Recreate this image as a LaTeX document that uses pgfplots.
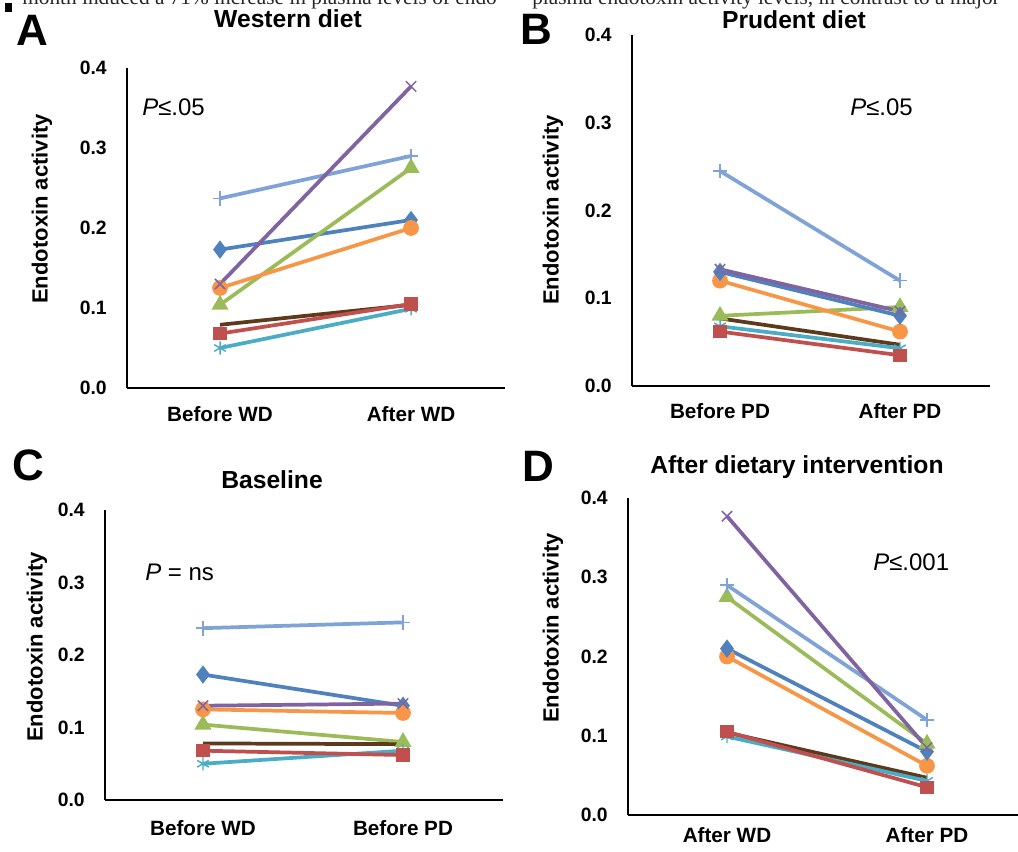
\documentclass[border=0pt]{standalone}
\usepackage{fontspec}
\setmainfont{Liberation Sans}
\newfontfamily\seriffont{Liberation Serif}
\usepackage{pgfplots}
\pgfplotsset{compat=1.18}
\definecolor{c1}{HTML}{4F81BD}
\definecolor{c2}{HTML}{C0504D}
\definecolor{c3}{HTML}{9BBB59}
\definecolor{c4}{HTML}{8064A2}
\definecolor{c5}{HTML}{4BACC6}
\definecolor{c6}{HTML}{F79646}
\definecolor{c7}{HTML}{7FA3D6}
\definecolor{c8}{HTML}{5E3A1C}
\pgfplotsset{
  panel/.style={
    scale only axis, axis lines=left,
    axis line style={-, line width=1.3pt, black},
    xtick={0,1}, ytick={0,0.1,0.2,0.3,0.4},
    yticklabels={0.0,0.1,0.2,0.3,0.4},
    ymin=0, ymax=0.4, major tick length=0pt,
    yticklabel style={font=\bfseries\fontsize{14.5}{17}\selectfont, inner sep=0pt, anchor=east, xshift=-15pt},
    xticklabel style={font=\bfseries\fontsize{15.5}{18}\selectfont, inner sep=0pt, anchor=north},
    clip=false, anchor=south west,
  },
  s1/.style={color=c1, line width=2.8pt, mark=diamond*, mark size=4.6pt},
  s2/.style={color=c2, line width=2.8pt, mark=square*, mark size=3.6pt},
  s3/.style={color=c3, line width=2.8pt, mark=triangle*, mark size=4.6pt},
  s4/.style={color=c4, line width=2.8pt, mark=x, mark size=5.5pt, mark options={line width=1.1pt}},
  s5/.style={color=c5, line width=2.8pt, mark=asterisk, mark size=5pt, mark options={line width=1.1pt}},
  s6/.style={color=c6, line width=2.8pt, mark=*, mark size=4.5pt},
  s7/.style={color=c7, line width=2.8pt, mark=+, mark size=5.5pt, mark options={line width=1.1pt}},
  s8/.style={color=c8, line width=2.8pt, mark=none},
}
\begin{document}
\begin{tikzpicture}
\path[use as bounding box] (0,0) rectangle (763.5pt,639pt);
% cut-off text from the page above
\fill (3.75pt,630pt) rectangle (9pt,636.75pt);
\node[anchor=base west, inner sep=0pt, font=\seriffont\fontsize{16}{18}\selectfont, text=black!85] at (16.5pt,635.5pt) {month induced a 71\% increase in plasma levels of endo-};
\node[anchor=base west, inner sep=0pt, font=\seriffont\fontsize{16}{18}\selectfont, text=black!85] at (399pt,635.5pt) {plasma endotoxin activity levels, in contrast to a major};

% ---------------- A: Western diet
\begin{axis}[panel, at={(95.25pt,348pt)}, width=283.5pt, height=240pt,
  xmin=-0.487, xmax=1.492, xticklabels={Before WD, After WD},
  xticklabel style={yshift=-14pt}]
\addplot[s7] coordinates {(0,0.237) (1,0.290)};
\addplot[s1] coordinates {(0,0.173) (1,0.210)};
\addplot[s3] coordinates {(0,0.104) (1,0.275)};
\addplot[s6] coordinates {(0,0.125) (1,0.200)};
\addplot[s5] coordinates {(0,0.050) (1,0.099)};
\addplot[s8] coordinates {(0,0.079) (1,0.104)};
\addplot[s2] coordinates {(0,0.068) (1,0.105)};
\addplot[s4] coordinates {(0,0.130) (1,0.377)};
\end{axis}

% ---------------- B: Prudent diet
\begin{axis}[panel, at={(474pt,349.5pt)}, width=268.5pt, height=263.25pt,
  xmin=-0.489, xmax=1.5, xticklabels={Before PD, After PD},
  xticklabel style={yshift=-13pt}]
\addplot[s7] coordinates {(0,0.245) (1,0.120)};
\addplot[s3] coordinates {(0,0.080) (1,0.090)};
\addplot[s6] coordinates {(0,0.120) (1,0.062)};
\addplot[s8] coordinates {(0,0.077) (1,0.047)};
\addplot[s5] coordinates {(0,0.068) (1,0.043)};
\addplot[s2] coordinates {(0,0.062) (1,0.035)};
\addplot[s1] coordinates {(0,0.130) (1,0.080)};
\addplot[s4] coordinates {(0,0.133) (1,0.085)};
\end{axis}

% ---------------- C: Baseline
\begin{axis}[panel, at={(78.75pt,39pt)}, width=298.5pt, height=217.5pt,
  xmin=-0.49, xmax=1.5, xticklabels={Before WD, Before PD},
  xticklabel style={yshift=-15pt}]
\addplot[s7] coordinates {(0,0.237) (1,0.245)};
\addplot[s1] coordinates {(0,0.173) (1,0.130)};
\addplot[s3] coordinates {(0,0.104) (1,0.080)};
\addplot[s5] coordinates {(0,0.050) (1,0.068)};
\addplot[s2] coordinates {(0,0.068) (1,0.062)};
\addplot[s8] coordinates {(0,0.078) (1,0.077)};
\addplot[s6] coordinates {(0,0.125) (1,0.120)};
\addplot[s4] coordinates {(0,0.130) (1,0.133)};
\end{axis}

% ---------------- D: After dietary intervention
\begin{axis}[panel, at={(471pt,27.75pt)}, width=292.5pt, height=237.75pt,
  xmin=-0.495, xmax=1.455, xticklabels={After WD, After PD},
  xticklabel style={yshift=-9pt}]
\addplot[s8] coordinates {(0,0.104) (1,0.047)};
\addplot[s5] coordinates {(0,0.099) (1,0.043)};
\addplot[s2] coordinates {(0,0.105) (1,0.035)};
\addplot[s6] coordinates {(0,0.200) (1,0.062)};
\addplot[s1] coordinates {(0,0.210) (1,0.080)};
\addplot[s3] coordinates {(0,0.275) (1,0.090)};
\addplot[s7] coordinates {(0,0.290) (1,0.120)};
\addplot[s4] coordinates {(0,0.377) (1,0.085)};
\end{axis}

% titles
\tikzset{ttl/.style={font=\bfseries\fontsize{18.5}{22}\selectfont, inner sep=0pt},
         lt/.style={font=\bfseries\fontsize{33}{38}\selectfont, inner sep=0pt},
         yl/.style={font=\bfseries\fontsize{16.5}{20}\selectfont, inner sep=0pt, rotate=90},
         pv/.style={font=\fontsize{18}{21}\selectfont, inner sep=0pt, anchor=west}}
\node[ttl] at (216pt,624.75pt) {Western diet};
\node[ttl] at (595.5pt,624pt) {Prudent diet};
\node[ttl] at (204pt,279pt) {Baseline};
\node[ttl] at (597.75pt,288.75pt) {After dietary intervention};
% panel letters
\node[lt] at (24pt,616.5pt) {A};
\node[lt] at (402pt,617.25pt) {B};
\node[lt] at (21pt,290.25pt) {C};
\node[lt] at (403.5pt,289.5pt) {D};
% y labels
\node[yl] at (31.5pt,482.25pt) {Endotoxin activity};
\node[yl] at (414.75pt,481.5pt) {Endotoxin activity};
\node[yl] at (27.75pt,153.75pt) {Endotoxin activity};
\node[yl] at (414.75pt,168pt) {Endotoxin activity};
% p values
\node[pv] at (106.5pt,558.75pt) {\textit{P}≤.05};
\node[pv] at (637.5pt,558.75pt) {\textit{P}≤.05};
\node[pv] at (108.75pt,210pt) {\textit{P} = ns};
\node[pv] at (654.75pt,217.5pt) {\textit{P}≤.001};
\end{tikzpicture}
\end{document}
